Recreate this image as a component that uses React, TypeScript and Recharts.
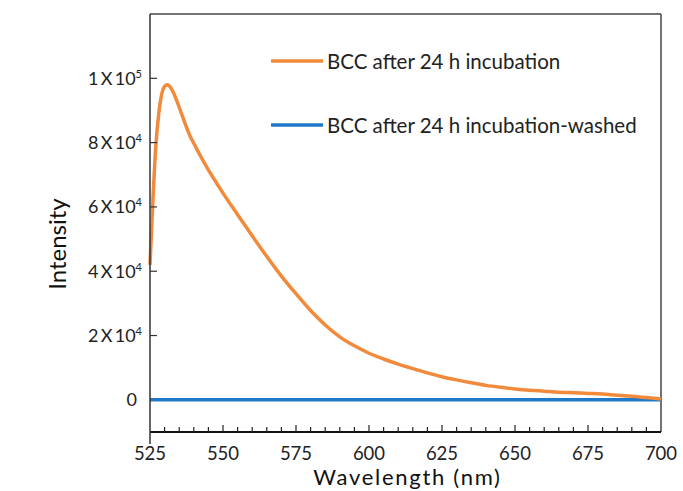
import React from 'react';
import { LineChart, Line, XAxis, YAxis, ReferenceLine, Legend } from 'recharts';

const wavelengths = [525, 526, 527, 528, 529, 530, 531, 532, 533, 535, 537, 539, 540, 542, 545, 550, 555, 560, 565, 570, 575, 580, 585, 590, 595, 600, 605, 610, 615, 620, 625, 630, 635, 640, 645, 650, 655, 660, 665, 670, 675, 680, 685, 690, 695, 700];
const incubated = [42000, 62000, 79000, 89000, 95000, 97500, 98000, 97200, 95600, 91000, 86000, 81500, 79800, 76300, 71500, 64300, 57600, 51000, 44600, 38500, 33000, 27800, 23300, 19600, 16800, 14500, 12700, 11100, 9700, 8400, 7200, 6200, 5300, 4500, 3900, 3400, 3000, 2700, 2400, 2200, 2000, 1800, 1400, 1100, 700, 300];
const washed = wavelengths.map(() => 0);

const xTicks = [525, 530, 535, 540, 545, 550, 555, 560, 565, 570, 575, 580, 585, 590, 595, 600, 605, 610, 615, 620, 625, 630, 635, 640, 645, 650, 655, 660, 665, 670, 675, 680, 685, 690, 695, 700];
const yTicks = [0, 20000, 40000, 60000, 80000, 100000];
const yTickMantissa = ['0', '2', '4', '6', '8', '1'];
const yTickExponent = ['', '4', '4', '4', '4', '5'];

const seriesNames = ['BCC after 24 h incubation', 'BCC after 24 h incubation-washed'];
const seriesColors = ['#F28A3C', '#1F78C8'];

const data = wavelengths.map((w, i) => ({ w, a: incubated[i], b: washed[i] }));

const FONT = 'Lato, "Open Sans", sans-serif';

const XTick = (props: any) => {
  const { x, y, payload } = props;
  const v = payload.value;
  const major = v % 25 === 0;
  return (
    <g>
      {v !== 525 && v !== 700 && (
        <line x1={x} x2={x} y1={y} y2={y - (major ? 7 : 5)} stroke="#222" strokeWidth={1.2} />
      )}
      {v === 525 && <line x1={x} x2={x} y1={y} y2={y + 12} stroke="#333" strokeWidth={1.5} />}
      {major && (
        <text x={x} y={y + 28} textAnchor="middle" fontFamily={FONT} fontSize={18.5} fill="#222">
          {v}
        </text>
      )}
    </g>
  );
};

const YTick = (props: any) => {
  const { x, y, payload } = props;
  const idx = yTicks.indexOf(payload.value);
  const m = yTickMantissa[idx];
  const e = yTickExponent[idx];
  return (
    <g>
      {payload.value !== 0 && <line x1={x} x2={x + 7} y1={y} y2={y} stroke="#333" strokeWidth={1.2} />}
      {e === '' ? (
        <text x={x - 13} y={y} dy="0.35em" textAnchor="end" fontFamily={FONT} fontSize={18} fill="#222">
          {m}
        </text>
      ) : (
        <text x={x - 8} y={y} dy="0.35em" textAnchor="end" fontFamily={FONT} fontSize={18} fill="#222">
          {m + '\u2009X\u200910'}
          <tspan dy={-7} fontSize={11}>{e}</tspan>
        </text>
      )}
    </g>
  );
};

const YLabel = (props: any) => {
  const vb = props.viewBox;
  const cx = vb.x + 58;
  const cy = vb.y + vb.height / 2 + 21;
  return (
    <text x={cx} y={cy} transform={`rotate(-90, ${cx}, ${cy})`} textAnchor="middle" dy="0.35em" fontFamily={FONT} fontSize={24} fill="#111">
      Intensity
    </text>
  );
};

const XLabel = (props: any) => {
  const vb = props.viewBox;
  const cx = vb.x + vb.width / 2 + 2;
  const cy = vb.y + 45;
  return (
    <text x={cx} y={cy} textAnchor="middle" dy="0.35em" fontFamily={FONT} fontSize={22} letterSpacing={1.7} fill="#111">
      Wavelength (nm)
    </text>
  );
};

const LegendContent = () => (
  <div style={{ fontFamily: FONT }}>
    {seriesNames.map((n, i) => (
      <div key={n} style={{ display: 'flex', alignItems: 'center', height: 32, marginBottom: i === 0 ? 32 : 0 }}>
        <svg width={52} height={6} style={{ marginRight: 4 }}>
          <line x1={1} x2={51} y1={3} y2={3} stroke={seriesColors[i]} strokeWidth={3.5} strokeLinecap="round" />
        </svg>
        <span style={{ fontSize: 20.5, color: '#222', whiteSpace: 'nowrap' }}>{n}</span>
      </div>
    ))}
  </div>
);

export default function App() {
  return (
    <div style={{ position: 'absolute', left: 0, top: 0, width: 683, height: 491, background: '#fff' }}>
      <LineChart width={683} height={491} data={data} margin={{ top: 14, right: 22, bottom: 0, left: 0 }}>
        <XAxis
          dataKey="w"
          type="number"
          domain={[525, 700]}
          ticks={xTicks}
          interval={0}
          tickSize={0}
          tickMargin={0}
          height={59}
          axisLine={{ stroke: '#111', strokeWidth: 2 }}
          tickLine={false}
          tick={<XTick />}
          label={<XLabel />}
        />
        <YAxis
          type="number"
          domain={[-10000, 120000]}
          ticks={yTicks}
          interval={0}
          tickSize={0}
          tickMargin={0}
          width={150}
          axisLine={{ stroke: '#333', strokeWidth: 1.5 }}
          tickLine={false}
          tick={<YTick />}
          label={<YLabel />}
        />
        <ReferenceLine y={120000} stroke="#444" strokeWidth={1.5} />
        <ReferenceLine x={700} stroke="#444" strokeWidth={1.5} />
        <Line type="monotone" dataKey="b" name={seriesNames[1]} stroke={seriesColors[1]} strokeWidth={3.5} dot={false} isAnimationActive={false} />
        <Line type="monotone" dataKey="a" name={seriesNames[0]} stroke={seriesColors[0]} strokeWidth={3.5} dot={false} isAnimationActive={false} />
        <Legend
          content={<LegendContent />}
          layout="vertical"
          verticalAlign="middle"
          align="center"
          wrapperStyle={{ position: 'absolute', left: 271, top: 45, width: 400 }}
        />
      </LineChart>
    </div>
  );
}
